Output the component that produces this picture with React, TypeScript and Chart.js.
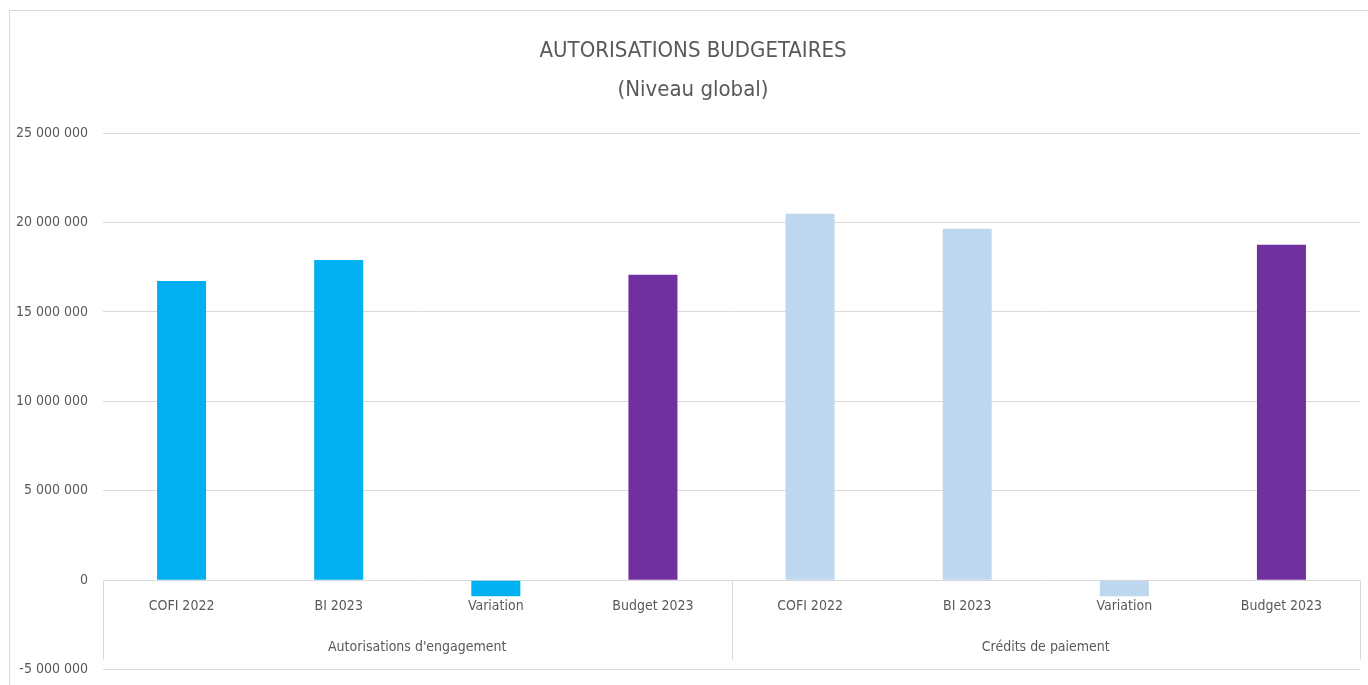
import React, { useEffect, useRef } from 'react';
import { Chart, registerables } from 'chart.js';

Chart.register(...registerables);

const categories = ['COFI 2022', 'BI 2023', 'Variation', 'Budget 2023', 'COFI 2022', 'BI 2023', 'Variation', 'Budget 2023'];
const groups = ["Autorisations d'engagement", 'Crédits de paiement'];
const groupSize = 4;
const values = [16720000, 17900000, -900000, 17070000, 20480000, 19640000, -900000, 18750000];
const barColors = ['#00B0F0', '#00B0F0', '#00B0F0', '#7030A0', '#BDD7EE', '#BDD7EE', '#BDD7EE', '#7030A0'];
const titleLines = ['AUTORISATIONS BUDGETAIRES', '(Niveau global)'];
const yMin = -5000000;
const yMax = 25000000;
const yStep = 5000000;

const FONT = "'Liberation Sans Narrow', 'DejaVu Sans Condensed', sans-serif";
const TEXT = '#595959';
const GRID = '#D9D9D9';

function fmt(v: number): string {
  const s = Math.abs(v).toString().replace(/\B(?=(\d{3})+(?!\d))/g, ' ');
  return (v < 0 ? '-' : '') + s;
}

const decorPlugin = {
  id: 'decor',
  afterDraw(chart: any) {
    const ctx = chart.ctx;
    const area = chart.chartArea;
    const x = chart.scales.x;
    const y = chart.scales.y;
    ctx.save();
    // outer frame
    ctx.strokeStyle = GRID;
    ctx.lineWidth = 1;
    ctx.strokeRect(9.5, 10.5, 1400, 800);
    // title
    ctx.fillStyle = TEXT;
    ctx.textAlign = 'center';
    ctx.textBaseline = 'alphabetic';
    ctx.font = `22px ${FONT}`;
    ctx.fillText(titleLines[0], 693, 57);
    ctx.fillText(titleLines[1], 693, 96);
    // group separators
    const y0 = Math.round(y.getPixelForValue(0));
    const yb = area.bottom - 10;
    ctx.beginPath();
    for (let g = 0; g <= groups.length; g++) {
      const px = Math.round(x.getPixelForValue(g * groupSize - 0.5)) + 0.5;
      ctx.moveTo(px, y0);
      ctx.lineTo(px, yb);
    }
    ctx.stroke();
    // group labels
    ctx.font = `14px ${FONT}`;
    ctx.textBaseline = 'middle';
    groups.forEach((name, g) => {
      const l = x.getPixelForValue(g * groupSize - 0.5);
      const r = x.getPixelForValue((g + 1) * groupSize - 0.5);
      ctx.fillText(name, (l + r) / 2, area.bottom - 22);
    });
    ctx.restore();
  },
};

export default function App() {
  const ref = useRef<HTMLCanvasElement>(null);
  useEffect(() => {
    if (!ref.current) return;
    const chart = new Chart(ref.current, {
      type: 'bar',
      data: {
        labels: categories,
        datasets: [
          {
            data: values,
            backgroundColor: barColors,
            borderWidth: 0,
            barPercentage: 0.312,
            categoryPercentage: 1,
          },
        ],
      },
      options: {
        responsive: false,
        animation: false,
        layout: { padding: { left: 0, right: 8, top: 133, bottom: 8 } },
        plugins: {
          legend: { display: false },
          title: { display: false },
          tooltip: { enabled: false },
        },
        scales: {
          x: {
            type: 'category',
            position: { y: 0 } as any,
            offset: true,
            grid: { display: false, drawTicks: false },
            border: { display: false },
            ticks: {
              color: TEXT,
              font: { family: FONT, size: 14 },
              padding: 18,
              maxRotation: 0,
              autoSkip: false,
            },
          },
          y: {
            min: yMin,
            max: yMax,
            grid: { color: GRID, lineWidth: 1, drawTicks: false },
            border: { display: false },
            afterFit: (scale: any) => {
              scale.width = 103;
            },
            ticks: {
              stepSize: yStep,
              color: TEXT,
              font: { family: FONT, size: 14 },
              padding: 15,
              callback: (v: any) => fmt(Number(v)),
            },
          },
        },
      },
      plugins: [decorPlugin],
    });
    return () => chart.destroy();
  }, []);
  return (
    <div style={{ position: 'fixed', left: 0, top: 0, width: 1368, height: 685, background: '#fff', overflow: 'hidden' }}>
      <canvas ref={ref} width={1368} height={693} style={{ display: 'block' }} />
    </div>
  );
}
